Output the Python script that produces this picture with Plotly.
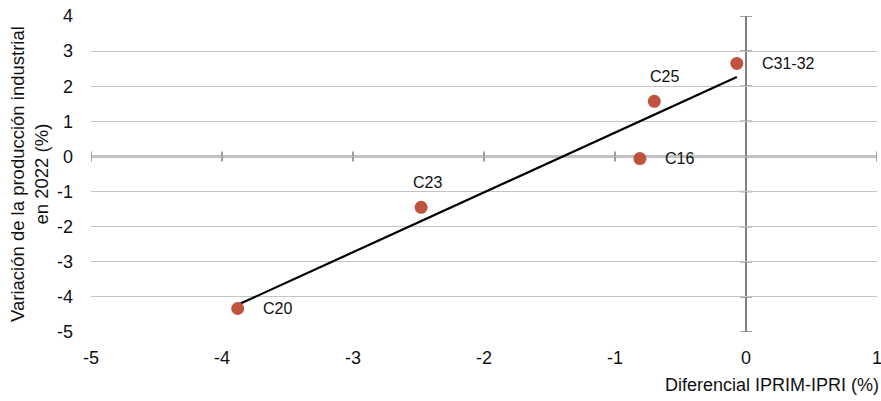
import numpy as np
import plotly.graph_objects as go

labels = ["C20", "C23", "C16", "C25", "C31-32"]
x_vals = [-3.88, -2.48, -0.81, -0.70, -0.07]
y_vals = [-4.33, -1.45, -0.06, 1.57, 2.65]
x_ticks = [-5, -4, -3, -2, -1, 0, 1]
y_ticks = [-5, -4, -3, -2, -1, 0, 1, 2, 3, 4]

FONT = "Liberation Sans, Arial, Helvetica, sans-serif"
DOT = "#C0533F"
AXC = "#808080"

fig = go.Figure()

# trend line (linear regression over the data)
slope, icpt = np.polyfit(x_vals, y_vals, 1)
tx = [min(x_vals), max(x_vals)]
fig.add_trace(go.Scatter(x=tx, y=[slope * v + icpt for v in tx], mode="lines",
                         line=dict(color="black", width=2.2), hoverinfo="skip"))

fig.add_trace(go.Scatter(x=x_vals, y=y_vals, mode="markers",
                         marker=dict(color=DOT, size=13), hoverinfo="skip"))

# point labels
offsets = {"C20": (23, 0, "left"), "C23": (6, -25, "center"), "C16": (23, 0, "left"),
           "C25": (10, -25, "center"), "C31-32": (23, 0, "left")}
for lab, xv, yv in zip(labels, x_vals, y_vals):
    dx, dy, anc = offsets[lab]
    fig.add_annotation(x=xv, y=yv, text=lab, showarrow=False, xanchor=anc, yanchor="middle",
                       xshift=dx, yshift=-dy, font=dict(family=FONT, size=16, color="#111"))

shapes = []
# zero lines
shapes.append(dict(type="line", xref="x", yref="y", x0=x_ticks[0], x1=x_ticks[-1], y0=0, y1=0,
                   line=dict(color=AXC, width=2), layer="below"))
shapes.append(dict(type="line", xref="x", yref="y", x0=0, x1=0, y0=y_ticks[0], y1=y_ticks[-1],
                   line=dict(color=AXC, width=2), layer="below"))
# tick marks on zero lines
for t in x_ticks:
    shapes.append(dict(type="line", xref="x", yref="y", x0=t, x1=t, ysizemode="pixel", yanchor=0,
                       y0=-5, y1=5, line=dict(color=AXC, width=1.5), layer="below"))
for t in y_ticks:
    if t == 0:
        continue
    shapes.append(dict(type="line", xref="x", yref="y", y0=t, y1=t, xsizemode="pixel", xanchor=0,
                       x0=-6, x1=6, line=dict(color=AXC, width=1.5), layer="below"))
fig.update_layout(shapes=shapes)

fig.update_xaxes(range=[-5, 1], tickvals=x_ticks, ticktext=[str(v) for v in x_ticks],
                 showgrid=False, zeroline=False, showline=False, ticks="",
                 ticklabeloverflow="allow", automargin=False,
                 ticklabelstandoff=13, tickfont=dict(family=FONT, size=18, color="#111"))
fig.update_yaxes(range=[-5, 4], tickvals=y_ticks, ticktext=[str(v) for v in y_ticks],
                 showgrid=True, gridcolor="#c4c4c4", gridwidth=1, zeroline=False, showline=False,
                 automargin=False,
                 ticks="", ticklabelstandoff=17, tickfont=dict(family=FONT, size=18, color="#111"))

fig.add_annotation(xref="paper", yref="paper", x=1, y=0, xanchor="right", yanchor="middle",
                   xshift=4, yshift=-53, text="Diferencial IPRIM-IPRI (%)", showarrow=False,
                   font=dict(family=FONT, size=18, color="#111"))
fig.add_annotation(xref="paper", yref="paper", x=0, y=0.5, xanchor="center", yanchor="middle",
                   xshift=-62, text="Variación de la producción industrial<br>en 2022 (%)",
                   textangle=-90, showarrow=False,
                   font=dict(family=FONT, size=18.5, color="#111"))

fig.update_layout(width=881, height=401, margin=dict(l=91, r=4, t=16, b=69),
                  paper_bgcolor="white", plot_bgcolor="white", showlegend=False)

fig.write_html("out.html", config={"displayModeBar": False},
               post_script="document.body.style.margin='0';")
